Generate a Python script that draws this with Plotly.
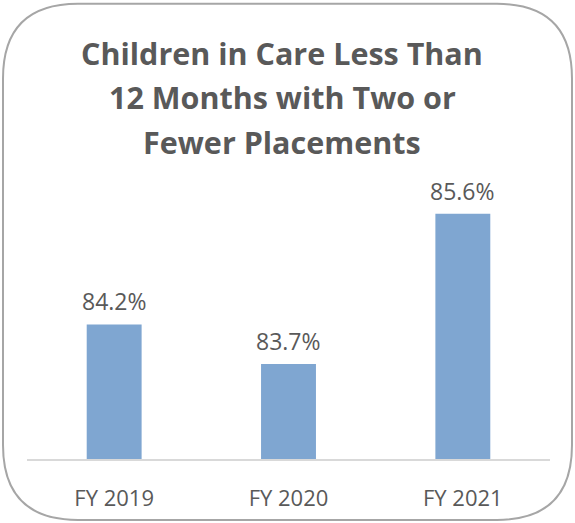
import plotly.graph_objects as go

categories = ["FY 2019", "FY 2020", "FY 2021"]
values = [84.2, 83.7, 85.6]
value_labels = ["84.2%", "83.7%", "85.6%"]
title_lines = ["Children in Care Less Than", "12 Months with Two or", "Fewer Placements"]

W, H = 575, 523
L, R, T, B = 27, 25, 181.5, 64
PW, PH = W - L - R, H - T - B

def px_x(px):
    return (px - L) / PW

def px_y(py):
    return (H - B - py) / PH

TEXT = "#595959"
FONT = "Open Sans"

fig = go.Figure(go.Bar(
    x=categories, y=values,
    marker=dict(color="#7FA6D1", line=dict(width=0)),
    hoverinfo="skip",
))

for c, v, t in zip(categories, values, value_labels):
    fig.add_annotation(
        x=c, y=v, text=t, xref="x", yref="y", showarrow=False,
        xanchor="center", yanchor="bottom", yshift=5,
        font=dict(family=FONT, size=23, color=TEXT),
    )

for i, (line, cy) in enumerate(zip(title_lines, [52, 96, 141])):
    fig.add_annotation(
        text="<b>%s</b>" % line, x=px_x(282), y=px_y(cy), xref="paper", yref="paper",
        xanchor="center", yanchor="middle", showarrow=False,
        font=dict(family=FONT, size=30.5, color=TEXT),
    )

# rounded border
x0, x1, y0, y1, r = 3, 572, 3, 520, 75
def P(px, py):
    return "%f,%f" % (px_x(px), px_y(py))
path = (
    "M " + P(x0 + r, y0) + " L " + P(x1 - r, y0) +
    " Q " + P(x1, y0) + " " + P(x1, y0 + r) +
    " L " + P(x1, y1 - r) +
    " Q " + P(x1, y1) + " " + P(x1 - r, y1) +
    " L " + P(x0 + r, y1) +
    " Q " + P(x0, y1) + " " + P(x0, y1 - r) +
    " L " + P(x0, y0 + r) +
    " Q " + P(x0, y0) + " " + P(x0 + r, y0) + " Z"
)
fig.add_shape(type="path", path=path, xref="paper", yref="paper",
              line=dict(color="#A6A6A6", width=2), fillcolor="rgba(0,0,0,0)", layer="above")

fig.update_layout(
    width=W, height=H, margin=dict(l=L, r=R, t=T, b=B, pad=0),
    paper_bgcolor="white", plot_bgcolor="white",
    bargap=0.685, showlegend=False,
    font=dict(family=FONT, color=TEXT),
)
fig.update_xaxes(showline=True, linecolor="#D9D9D9", linewidth=1.5, showgrid=False,
                 ticks="", ticklabelstandoff=19,
                 tickfont=dict(family=FONT, size=22, color=TEXT), fixedrange=True)
fig.update_yaxes(visible=False, range=[82.5, 86], showgrid=False, zeroline=False, fixedrange=True)

fig.write_html("out.html", config={"displayModeBar": False},
               post_script="document.body.style.margin='0';document.body.style.overflow='hidden';")
